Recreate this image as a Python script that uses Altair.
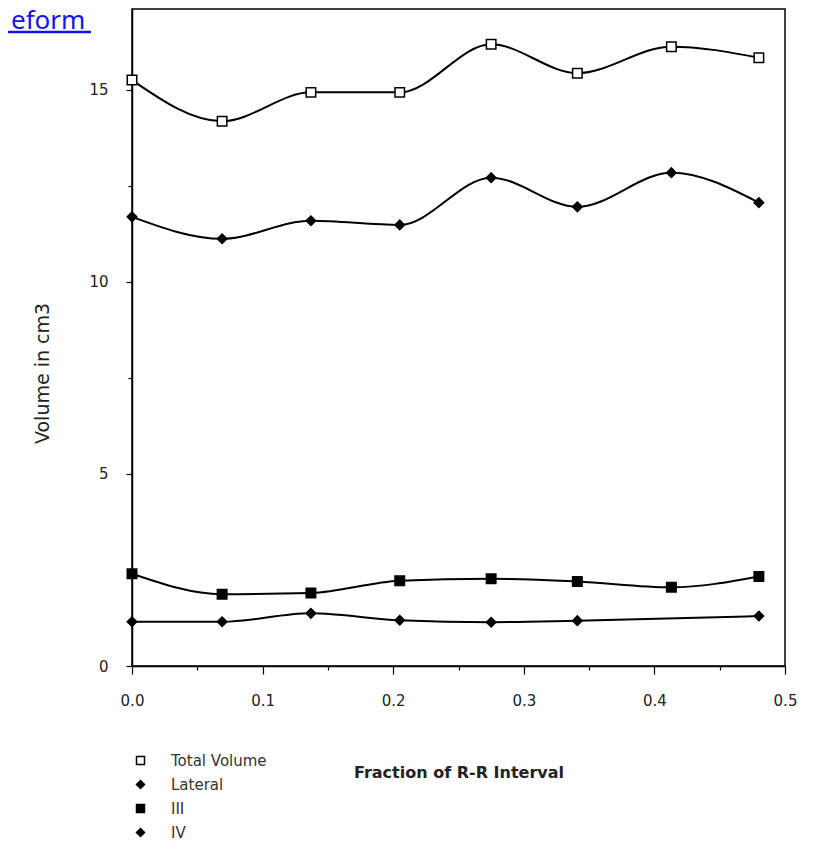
import altair as alt
import pandas as pd

# ---- data ----
x_frac = [0.0, 0.069, 0.137, 0.205, 0.275, 0.341, 0.413, 0.480]
total_volume = [15.25, 14.18, 14.93, 14.93, 16.18, 15.43, 16.12, 15.83]
lateral = [11.69, 11.12, 11.59, 11.48, 12.71, 11.95, 12.84, 12.06]
seg_iii = [2.40, 1.87, 1.90, 2.22, 2.27, 2.20, 2.05, 2.33]
seg_iv = [1.15, 1.15, 1.37, 1.19, 1.14, 1.18, None, 1.30]
series_names = ["Total Volume", "Lateral", "III", "IV"]
x_ticks = [0.0, 0.05, 0.1, 0.15, 0.2, 0.25, 0.3, 0.35, 0.4, 0.45, 0.5]
y_ticks = [0, 2.5, 5, 7.5, 10, 12.5, 15]
link_text = ["eform"]

rows = []
for name, vals in zip(series_names, [total_volume, lateral, seg_iii, seg_iv]):
    for xv, yv in zip(x_frac, vals):
        if yv is not None:
            rows.append({"series": name, "frac": xv, "vol": yv})
df = pd.DataFrame(rows)

FONT = "DejaVu Sans"

x_enc = alt.X(
    "frac:Q",
    scale=alt.Scale(domain=[0, 0.5], nice=False, zero=False),
    axis=alt.Axis(
        values=x_ticks,
        labelExpr="abs(datum.value*10 - round(datum.value*10)) < 0.001 ? format(datum.value, '.1f') : ''",
        tickSize={"condition": {"test": "abs(datum.value*10 - round(datum.value*10)) < 0.001", "value": 8}, "value": 4},
        grid=False,
        domainColor="black",
        domainWidth=1.5,
        tickColor="black",
        tickWidth=1.2,
        labelFont=FONT,
        labelFontSize=15,
        labelColor="#222",
        labelPadding=19,
        labelFlush=False,
        title="Fraction of R-R Interval",
        titleFont=FONT,
        titleFontSize=16,
        titleFontWeight="bold",
        titleColor="#222",
        titleY=106,
        titleBaseline="middle",
    ),
)
y_enc = alt.Y(
    "vol:Q",
    scale=alt.Scale(domain=[0, 17.1], nice=False),
    axis=alt.Axis(
        values=y_ticks,
        labelExpr="datum.value % 5 === 0 ? datum.label : ''",
        tickSize={"condition": {"test": "datum.value % 5 === 0", "value": 6}, "value": 4},
        grid=False,
        domainColor="black",
        domainWidth=1.5,
        tickColor="black",
        tickWidth=1.2,
        labelFont=FONT,
        labelFontSize=15,
        labelColor="#222",
        labelPadding=18,
        labelFlush=False,
        title="Volume in cm3",
        titleFont=FONT,
        titleFontSize=19,
        titleFontWeight="normal",
        titleColor="#222",
        titleAngle=270,
        titleX=-90,
        titleY=364,
        titleAlign="center",
        titleBaseline="middle",
    ),
)

legend_cfg = dict(
    title=None,
    orient="none",
    legendX=1,
    legendY=744,
    padding=0,
    symbolSize=64,
    symbolStrokeWidth=1.5,
    labelFont=FONT,
    labelFontSize=15,
    labelColor="#333",
    labelOffset=23,
    rowPadding=8,
)

base = alt.Chart(df)

lines = base.mark_line(interpolate="monotone", color="black", strokeWidth=2).encode(
    x=x_enc, y=y_enc, detail="series:N"
)

points = base.mark_point(filled=True, strokeWidth=1.5, size=90, opacity=1).encode(
    x=x_enc,
    y=y_enc,
    shape=alt.Shape(
        "series:N",
        scale=alt.Scale(domain=series_names, range=["square", "diamond", "square", "diamond"]),
        legend=alt.Legend(**legend_cfg),
    ),
    fill=alt.Fill(
        "series:N",
        scale=alt.Scale(domain=series_names, range=["white", "black", "black", "black"]),
        legend=alt.Legend(**legend_cfg),
    ),
    stroke=alt.Stroke(
        "series:N",
        scale=alt.Scale(domain=series_names, range=["black", "black", "black", "black"]),
        legend=alt.Legend(**legend_cfg),
    ),
)

link = alt.Chart(pd.DataFrame({"t": link_text})).mark_text(
    align="left", baseline="alphabetic", fontSize=26, font="Noto Sans", color="#1414EE"
).encode(x=alt.value(-121), y=alt.value(20), text="t:N")

underline = alt.Chart(pd.DataFrame({"t": link_text})).mark_rule(
    color="#1414EE", strokeWidth=2.5
).encode(x=alt.value(-140), x2=alt.value(-41), y=alt.value(23))

chart = (
    alt.layer(lines, points, link, underline)
    .properties(
        width=653,
        height=657,
        padding={"left": 124, "top": 1, "right": 25, "bottom": 175},
        autosize=alt.AutoSizeParams(type="none"),
        background="white",
    )
    .configure_view(stroke="black", strokeWidth=1.5)
)

chart.save("out.html", embed_options={"renderer": "svg", "actions": False})
